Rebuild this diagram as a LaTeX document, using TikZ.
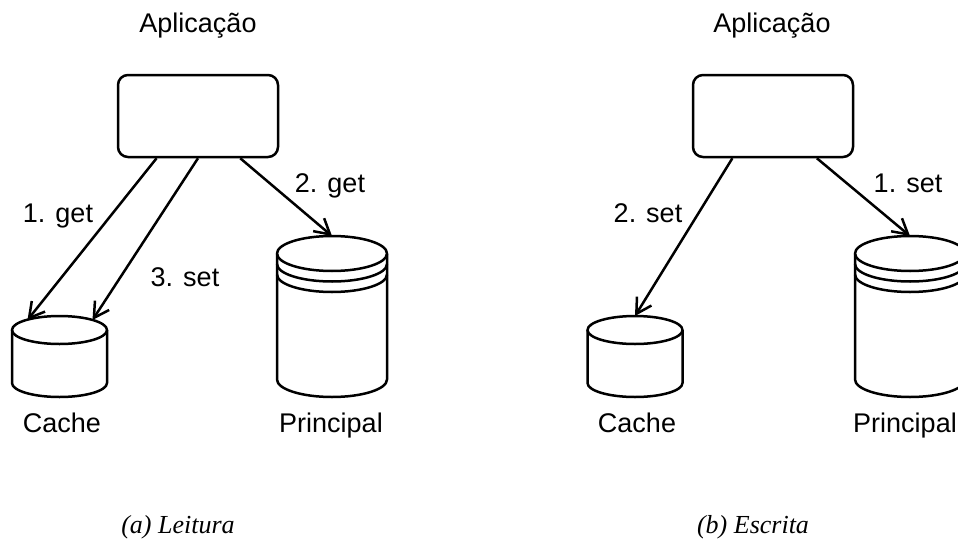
\documentclass[tikz,border=0pt]{standalone}
\usepackage{fontspec}
\setmainfont{Liberation Serif}
\newfontfamily\labelfont{Liberation Sans}
\usetikzlibrary{arrows.meta,calc}

\tikzset{
  outline/.style={line width=2.5pt, line join=round},
  appbox/.style={outline, draw, rounded corners=10pt, minimum width=160pt,
    minimum height=82pt, inner sep=0pt},
  lbl/.style={font=\labelfont\fontsize{27}{32}\selectfont, inner sep=0pt, anchor=base},
  captxt/.style={font=\itshape\fontsize{26}{31}\selectfont, inner sep=0pt, anchor=base},
  conn/.style={outline, -{Straight Barb[length=15pt, width=17pt, line width=2.5pt]}},
  % small data store: origin at the top of the upper rim
  pics/cachecyl/.style={code={
    \draw[outline] (0,14) ellipse [x radius=47.5, y radius=14];
    \draw[outline] (-47.5,14) -- (-47.5,67)
      arc [start angle=180, end angle=0, x radius=47.5, y radius=14] -- (47.5,14);
    \coordinate (-top) at (0,0);
    \coordinate (-l) at (-32,4);
    \coordinate (-r) at (33,4);
    \coordinate (-bot) at (0,81);
  }},
  % main data store with two rings below the rim
  pics/maincyl/.style={code={
    \draw[outline] (0,17.5) ellipse [x radius=55, y radius=17.5];
    \draw[outline] (-55,28) arc [start angle=180, end angle=0, x radius=55, y radius=17.5];
    \draw[outline] (-55,38.5) arc [start angle=180, end angle=0, x radius=55, y radius=17.5];
    \draw[outline] (-55,17.5) -- (-55,143.5)
      arc [start angle=180, end angle=0, x radius=55, y radius=17.5] -- (55,17.5);
    \coordinate (-top) at (0,0);
    \coordinate (-bot) at (0,161);
  }},
}

\begin{document}
\begin{tikzpicture}[x=1pt, y=-1pt]
  \useasboundingbox (0,0) rectangle (958,546);
  \clip (0,0) rectangle (958,546);

  % ---------- (a) read path ----------
  \node[lbl] (appAtxt) at (198,32) {Aplicação};
  \node[appbox] (appA) at (198,116) {};
  \pic (cacheA) at (59.5,316) {cachecyl};
  \pic (mainA) at (332,236) {maincyl};
  \node[lbl] (cacheAtxt) at (62,432) {Cache};
  \node[lbl] (mainAtxt) at (331,432) {Principal};

  \draw[conn] ($(appA.south west)!0.245!(appA.south east)$) -- (cacheA-l);
  \draw[conn] (appA.south) -- (cacheA-r);
  \draw[conn] ($(appA.south west)!0.76!(appA.south east)$) -- (mainA-top);

  \node[lbl] (getA) at (58,222) {1. get};
  \node[lbl] (getB) at (330,192) {2. get};
  \node[lbl] (setA) at (185,286) {3. set};

  \node[captxt] (capA) at (178,533) {(a) Leitura};

  % ---------- (b) write path ----------
  \node[lbl] (appBtxt) at (772,32) {Aplicação};
  \node[appbox] (appB) at (773,116) {};
  \pic (cacheB) at (635,316) {cachecyl};
  \pic (mainB) at (910,236) {maincyl};
  \node[lbl] (cacheBtxt) at (637,432) {Cache};
  \node[lbl] (mainBtxt) at (905,432) {Principal};

  \draw[conn] ($(appB.south west)!0.25!(appB.south east)$) -- (cacheB-top);
  \draw[conn] ($(appB.south west)!0.77!(appB.south east)$) -- (mainB-top);

  \node[lbl] (setB) at (908,192) {1. set};
  \node[lbl] (setC) at (648,222) {2. set};

  \node[captxt] (capB) at (753,533) {(b) Escrita};
\end{tikzpicture}
\end{document}
